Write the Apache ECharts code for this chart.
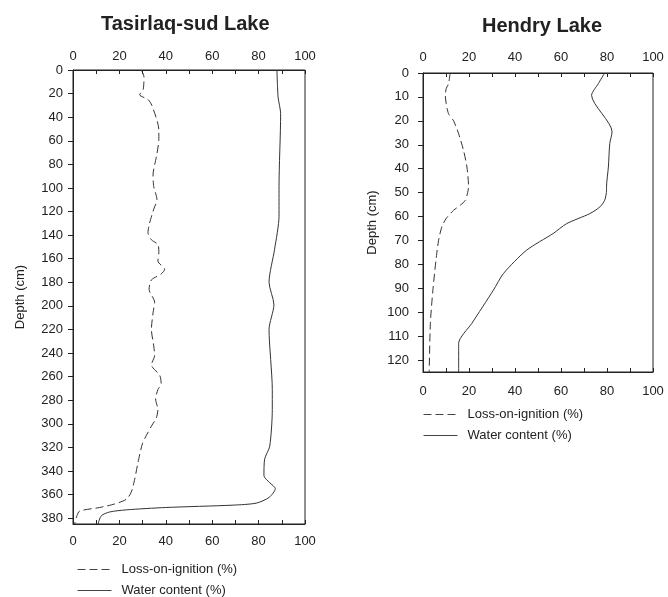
<!DOCTYPE html>
<html>
<head>
<meta charset="utf-8">
<script src="https://cdn.jsdelivr.net/npm/echarts@6/dist/echarts.min.js"></script>
<style>
  html, body { margin: 0; padding: 0; background: #fff; }
  #chart { width: 668px; height: 597px; }
</style>
</head>
<body>
<div id="chart"></div>
<script>
// Tasirlaq-sud Lake: [value %, depth cm]
const tasLoi = [
  [29.5, 0], [30.6, 6], [30.2, 17], [28.7, 21], [32.3, 25], [34, 30], [37, 51], [37, 59],
  [36, 73], [34.5, 89], [34.8, 99], [36.2, 110], [34.8, 118], [33, 130], [32.3, 138],
  [33.8, 144], [36.6, 148], [37, 155], [36.6, 162], [39.5, 169], [38, 173], [33.8, 178],
  [32.8, 186], [35.2, 197], [34.5, 206], [33.8, 220], [34.8, 234], [35.2, 242], [33.8, 250],
  [37.4, 259], [38, 266], [36.6, 271], [35.6, 279], [36.6, 288], [35.9, 295], [33.8, 302],
  [31.6, 310], [29.9, 317], [28, 333], [26.6, 347], [25.1, 358], [23, 364], [18, 368],
  [11.5, 371], [2.9, 374], [1.7, 378], [0.7, 385]
];
const tasWater = [
  [87.9, 0], [88.4, 23], [89.5, 37], [88.8, 99], [88.8, 124], [86.9, 152], [84.5, 180],
  [86.6, 199], [84.5, 220], [85.9, 271], [85.9, 288], [84.8, 319], [82.6, 330], [82.3, 344],
  [84.8, 350], [87.2, 355], [84.5, 362.5], [79, 367.3], [69, 369], [40, 371], [23, 373],
  [15.8, 374.8], [12.2, 378], [10.8, 385]
];
// Hendry Lake: [value %, depth cm]
const henLoi = [
  [11.8, 0], [11.1, 4.5], [10.1, 6.5], [9.7, 9.3], [10.1, 12.8], [11.1, 17], [13.3, 20],
  [15.5, 25.4], [17.6, 32.3], [19.1, 39.3], [19.8, 47.6], [19.4, 50], [18.4, 53.2],
  [16.2, 55.3], [13.3, 57.4], [10.1, 60.8], [8.2, 64.3], [6.8, 69.9], [5.8, 76.9],
  [4.3, 90.8], [3.2, 104.7], [2.7, 125]
];
const henWater = [
  [79, 0], [76.2, 4.5], [73.3, 9.3], [82.2, 24.6], [81.2, 29.5], [80.6, 39.3], [79.8, 47.6],
  [79.8, 49], [79, 53.2], [76.9, 56], [72.5, 58.8], [62.4, 63], [56.6, 67.1], [45, 74.1],
  [35, 83.8], [30.6, 90.8], [21.2, 104.7], [15.5, 113], [15.5, 125]
];

const tasDepthTicks = [0, 20, 40, 60, 80, 100, 120, 140, 160, 180, 200, 220, 240, 260, 280, 300, 320, 340, 360, 380];
const henDepthTicks = [0, 10, 20, 30, 40, 50, 60, 70, 80, 90, 100, 110, 120];
const pctLabels = [0, 20, 40, 60, 80, 100];
const pctTicks = [0, 10, 20, 30, 40, 50, 60, 70, 80, 90, 100];
const titles = ['Tasirlaq-sud Lake', 'Hendry Lake'];
const loiName = 'Loss-on-ignition (%)';
const waterName = 'Water content (%)';

const ink = '#222';
const font = 'Liberation Sans, Arial, sans-serif';

function xAxes(gridIndex, topMargin, bottomMargin) {
  const base = {
    gridIndex: gridIndex, type: 'value', min: 0, max: 100, interval: 10,
    axisLine: { show: true, lineStyle: { color: ink, width: 1 } },
    axisTick: { show: true, inside: true, length: 4, customValues: pctTicks, lineStyle: { color: ink } },
    axisLabel: { customValues: pctLabels, color: ink, fontFamily: font, fontSize: 13 },
    splitLine: { show: false }
  };
  return [
    Object.assign({}, base, { position: 'top', axisLabel: Object.assign({}, base.axisLabel, { margin: topMargin }) }),
    Object.assign({}, base, { position: 'bottom', axisLabel: Object.assign({}, base.axisLabel, { margin: bottomMargin }) })
  ];
}

function yAxis(gridIndex, max, ticks, labelMargin, nameGap) {
  return {
    gridIndex: gridIndex, type: 'value', inverse: true, min: 0, max: max,
    name: 'Depth (cm)', nameLocation: 'middle', nameGap: nameGap,
    nameTextStyle: { color: ink, fontFamily: font, fontSize: 13 },
    axisLine: { show: true, lineStyle: { color: ink } },
    axisTick: { show: true, length: 5, customValues: ticks, lineStyle: { color: ink } },
    axisLabel: { customValues: ticks, color: ink, fontFamily: font, fontSize: 13, margin: labelMargin },
    splitLine: { show: false }
  };
}

function lineSeries(name, xIdx, yIdx, data, dashed) {
  return {
    name: name, type: 'line', xAxisIndex: xIdx, yAxisIndex: yIdx,
    data: data, showSymbol: false, symbol: 'none', smooth: 0.25,
    lineStyle: { color: '#333', width: 1, type: dashed ? [8, 4] : 'solid' },
    itemStyle: { color: '#333' }
  };
}

const chart = echarts.init(document.getElementById('chart'), null, { renderer: 'canvas' });

const legendBase = {
  orient: 'vertical', itemWidth: 34, itemHeight: 14, itemGap: 8, padding: 0, selectedMode: false,
  itemStyle: { opacity: 0 },
  lineStyle: { width: 1, color: '#444' },
  textStyle: { color: ink, fontFamily: font, fontSize: 13, padding: [0, 0, 0, 5] },
  data: [loiName, waterName]
};

const titleStyle = { color: ink, fontFamily: font, fontSize: 20, fontWeight: 'bold' };

const option = {
  animation: false,
  backgroundColor: '#fff',
  title: [
    { text: titles[0], left: 96, top: 9, textStyle: titleStyle },
    { text: titles[1], left: 477, top: 11, textStyle: titleStyle }
  ],
  grid: [
    { left: 73, top: 70, width: 232, height: 454, show: true, borderColor: ink, borderWidth: 1 },
    { left: 423, top: 73, width: 230, height: 299, show: true, borderColor: ink, borderWidth: 1 }
  ],
  legend: [
    Object.assign({}, legendBase, { left: 77, top: 563 }),
    Object.assign({}, legendBase, { left: 423, top: 408 })
  ],
  xAxis: [].concat(xAxes(0, 7, 11), xAxes(1, 9, 13)),
  yAxis: [
    yAxis(0, 385, tasDepthTicks, 10, 46),
    yAxis(1, 125, henDepthTicks, 14, 44)
  ],
  series: [
    lineSeries(loiName, 0, 0, tasLoi, true),
    lineSeries(waterName, 0, 0, tasWater, false),
    lineSeries(loiName, 2, 1, henLoi, true),
    lineSeries(waterName, 2, 1, henWater, false)
  ]
};

chart.setOption(option);
window.addEventListener('resize', chart.resize);
</script>
</body>
</html>
